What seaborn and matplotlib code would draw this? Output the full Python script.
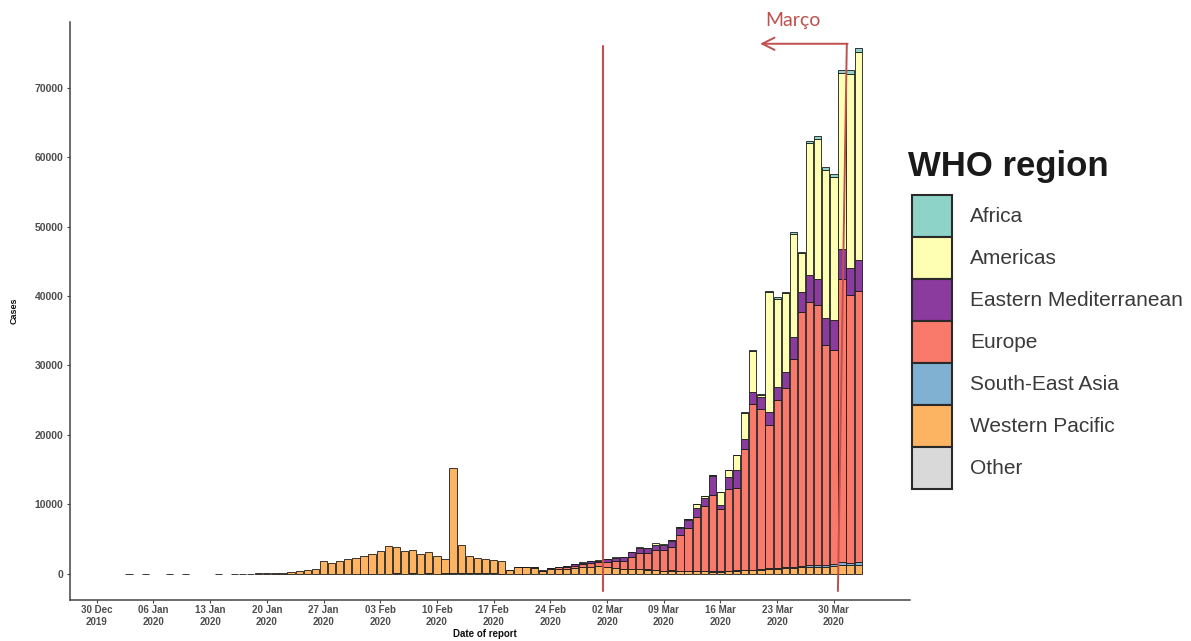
import matplotlib
matplotlib.use("Agg")
import matplotlib.pyplot as plt
import matplotlib.dates as mdates
from matplotlib.patches import Patch
import numpy as np
import pandas as pd
import seaborn as sns

# ---- data (new cases by date of report) ----
regions = ["Africa", "Americas", "Eastern Mediterranean", "Europe",
           "South-East Asia", "Western Pacific", "Other"]
region_colors = ["#8DD3C7", "#FFFFB3", "#8B3A9E", "#F97A6A",
                 "#80B1D3", "#FDB462", "#D9D9D9"]

# a few isolated early reports (Western Pacific)
early_dates = ["2020-01-03", "2020-01-05", "2020-01-08", "2020-01-10", "2020-01-14"]
early_wp = [17, 15, 7, 4, 1]

# daily reports from 16 Jan to 2 Apr 2020
daily_start = "2020-01-16"
western_pacific = [5, 10, 20, 40, 80, 120, 150, 260, 350, 550,
                   750, 1850, 1580, 1800, 2050, 2250, 2600, 2900, 3250, 3950,
                   3750, 3250, 3400, 2800, 3050, 2550, 2050, 15200, 4100, 2550,
                   2100, 2100, 1900, 1800, 550, 900, 930, 880, 400, 700,
                   700, 700, 800, 900, 1000, 1100, 900, 800, 700, 700,
                   650, 600, 550, 400, 450, 350, 350, 400, 350, 300,
                   300, 350, 450, 500, 500, 600, 700, 700, 800, 800,
                   900, 900, 1000, 1000, 1100, 1200, 1200, 1200]
europe = [0] * 35 + [10, 20, 60, 50, 120,
          200, 300, 350, 450, 500, 550, 800, 1000, 1150, 1700,
          2350, 2350, 2900, 3000, 3450, 5150, 6200, 7800, 9300, 10950,
          9000, 11800, 11900, 17400, 23900, 23100, 20600, 24150, 25750, 30000,
          36600, 38000, 37400, 31600, 30800, 40800, 38500, 39100]
eastern_med = [0] * 34 + [5, 10, 15, 20, 15, 30,
               60, 100, 200, 250, 300, 250, 400, 500, 550, 650,
               750, 700, 750, 750, 800, 1000, 1100, 1300, 1250, 2800,
               500, 1700, 2500, 1400, 1700, 1700, 1900, 1900, 2400, 3100,
               2900, 3800, 3800, 3900, 4300, 4300, 3900, 4400]
americas = [0] * 39 + [5,
            10, 10, 20, 20, 30, 40, 50, 60, 50, 60,
            80, 100, 150, 100, 150, 150, 250, 550, 250, 150,
            1900, 1000, 2200, 3800, 5900, 300, 17300, 12700, 11300, 14800,
            5600, 19000, 20100, 21400, 20700, 25300, 28000, 30000]
south_east_asia = [0] * 47 + [5, 10, 10,
                   10, 20, 10, 30, 20, 20, 30, 30, 40, 50,
                   30, 60, 60, 100, 100, 100, 100, 150, 150, 200,
                   200, 300, 300, 300, 300, 500, 400, 500]
africa = [0] * 54 + [5, 10, 10, 20, 30, 40,
          50, 60, 60, 100, 100, 100, 200, 200, 200, 300,
          200, 300, 400, 400, 400, 400, 500, 500]
other = [0] * 20 + [40, 0, 60, 0, 40, 0, 40, 44, 70, 70,
         99, 88, 79, 13] + [0] * 44

# ---- long table for seaborn ----
daily_dates = pd.date_range(daily_start, periods=len(western_pacific))
series = {"Western Pacific": western_pacific, "Europe": europe,
          "Eastern Mediterranean": eastern_med, "Americas": americas,
          "South-East Asia": south_east_asia, "Africa": africa, "Other": other}
frames = [pd.DataFrame({"date": pd.to_datetime(early_dates),
                        "region": "Western Pacific", "cases": early_wp})]
for name, vals in series.items():
    frames.append(pd.DataFrame({"date": daily_dates, "region": name, "cases": vals}))
df = pd.concat(frames, ignore_index=True)
df["day"] = mdates.date2num(df["date"])

sns.set_theme(style="ticks")
plt.rcParams["font.family"] = ["Liberation Sans", "DejaVu Sans"]

W, H = 1191, 641
AX_L, AX_R, AX_T, AX_B = 70, 910, 22, 600
fig = plt.figure(figsize=(W / 100, H / 100), dpi=100)
ax = fig.add_axes([AX_L / W, 1 - AX_B / H, (AX_R - AX_L) / W, (AX_B - AX_T) / H])

sns.histplot(data=df, x="day", weights="cases", hue="region",
             hue_order=regions, palette=dict(zip(regions, region_colors)),
             multiple="stack", discrete=True, shrink=0.9,
             edgecolor="#1a1a1a", linewidth=0.6, alpha=1, legend=False, ax=ax)
# empty bins are not drawn
for p in ax.patches:
    if p.get_height() == 0:
        p.set_visible(False)

day0 = mdates.date2num(pd.Timestamp("2019-12-30"))
ax.set_xlim(day0 - 3.3, day0 + 100.4)
ax.set_ylim(-3785, 79485)

week_ticks = pd.date_range("2019-12-30", "2020-03-30", freq="7D")
ax.set_xticks(mdates.date2num(week_ticks))
ax.set_xticklabels([d.strftime("%d %b\n%Y") for d in week_ticks])
ax.set_yticks(np.arange(0, 70001, 10000))
ax.set_yticklabels([str(v) for v in range(0, 70001, 10000)])

for side in ["top", "right"]:
    ax.spines[side].set_visible(False)
for side in ["left", "bottom"]:
    ax.spines[side].set_color("#444444")
    ax.spines[side].set_linewidth(1.1)
ax.tick_params(axis="both", length=2.2, width=0.8, color="#444444",
               labelsize=7, labelcolor="#4d4d4d")
ax.tick_params(axis="y", labelsize=7.5, pad=2.5)
ax.tick_params(axis="x", pad=1.5)
for lab in ax.get_xticklabels() + ax.get_yticklabels():
    lab.set_fontweight("bold")

ax.set_xlabel("Date of report", fontsize=7, fontweight="bold", color="#111111")
ax.set_ylabel("Cases", fontsize=6.5, fontweight="bold", color="#111111")
ax.xaxis.set_label_coords((485 - AX_L) / (AX_R - AX_L), (AX_B - 629) / (AX_B - AX_T))
ax.yaxis.set_label_coords((19 - AX_L) / (AX_R - AX_L), 0.5)

# ---- red annotation: start of March and "Março" arrow ----
red = "#C0504D"
march_start = mdates.date2num(pd.Timestamp("2020-03-02")) - 0.5
ax.plot([march_start, march_start], [-2450, 76000], color=red, lw=1.5,
        clip_on=False, zorder=5)
x_bottom = day0 + 91.5
x_corner = day0 + 92.6
x_tip = day0 + 81.9
y_top = 76350
ax.plot([x_bottom, x_corner], [-2500, y_top], color=red, lw=1.4,
        clip_on=False, zorder=5)
ax.annotate("", xy=(x_tip, y_top), xytext=(x_corner + 0.1, y_top),
            arrowprops=dict(arrowstyle="->", color=red, lw=1.4,
                            mutation_scale=22, shrinkA=0, shrinkB=0),
            annotation_clip=False, zorder=5)
ax.text(day0 + 86.0, 79700, "Março", color=red, fontsize=14,
        family=["Lato", "DejaVu Sans"], ha="center", va="center")

# ---- legend ----
fig.text(908 / W, 1 - 176 / H, "WHO region", fontsize=25, fontweight="bold",
         color="#1a1a1a", ha="left", va="baseline")
handles = [Patch(facecolor=c, edgecolor="#2a2a2a", linewidth=1.5)
           for c in region_colors]
leg = fig.legend(handles, regions, loc="upper left",
                 bbox_to_anchor=(912 / W, 1 - 195 / H), frameon=False,
                 fontsize=15, handlelength=1.92, handleheight=2.72,
                 labelspacing=0.0, handletextpad=0.86,
                 borderpad=0, borderaxespad=0)
for t in leg.get_texts():
    t.set_color("#3a3a3a")

fig.savefig("out.png", dpi=100, facecolor="white")
